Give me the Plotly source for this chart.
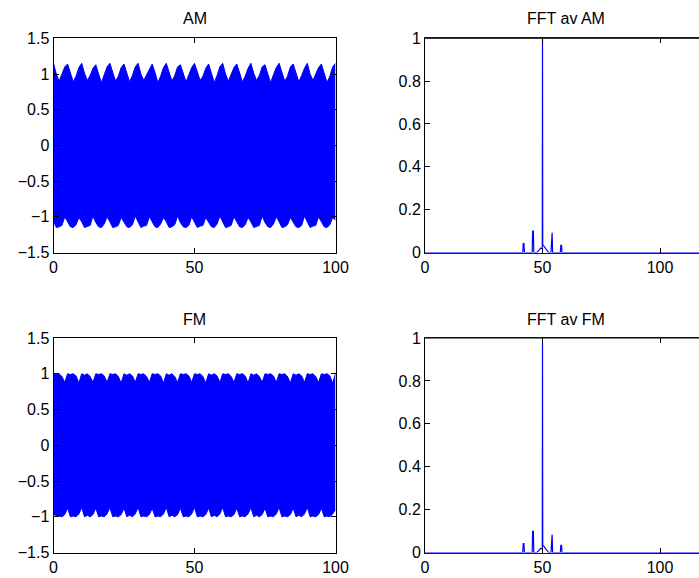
import plotly.graph_objects as go

# ---------------- data ----------------
sig_t = [0, 1, 2, 3, 4, 5, 6, 7, 8, 9, 10, 11, 12, 13, 14, 15, 16, 17, 18, 19,
         20, 21, 22, 23, 24, 25, 26, 27, 28, 29, 30, 31, 32, 33, 34, 35, 36, 37, 38, 39,
         40, 41, 42, 43, 44, 45, 46, 47, 48, 49, 50, 51, 52, 53, 54, 55, 56, 57, 58, 59,
         60, 61, 62, 63, 64, 65, 66, 67, 68, 69, 70, 71, 72, 73, 74, 75, 76, 77, 78, 79,
         80, 81, 82, 83, 84, 85, 86, 87, 88, 89, 90, 91, 92, 93, 94, 95, 96, 97, 98, 99, 100]

am_upper = [1.15, 1.00, 0.90, 0.99, 1.10, 1.14, 1.02, 0.89, 0.97, 1.09,
            1.15, 1.01, 0.91, 0.98, 1.08, 1.13, 1.00, 0.88, 0.99, 1.10,
            1.15, 1.02, 0.90, 0.97, 1.09, 1.14, 1.01, 0.89, 0.98, 1.10,
            1.15, 1.00, 0.91, 0.99, 1.08, 1.14, 1.02, 0.88, 0.97, 1.09,
            1.15, 1.01, 0.90, 0.98, 1.10, 1.13, 1.00, 0.89, 0.99, 1.09,
            1.15, 1.02, 0.91, 0.97, 1.08, 1.14, 1.01, 0.88, 0.98, 1.10,
            1.15, 1.00, 0.90, 0.99, 1.09, 1.14, 1.02, 0.89, 0.97, 1.08,
            1.15, 1.01, 0.91, 0.98, 1.10, 1.13, 1.00, 0.88, 0.99, 1.09,
            1.15, 1.02, 0.90, 0.97, 1.10, 1.14, 1.01, 0.89, 0.98, 1.08,
            1.15, 1.00, 0.91, 0.99, 1.09, 1.14, 1.02, 0.88, 0.97, 1.10, 1.15]

am_lower = [-1.06, -1.15, -1.14, -1.12, -1.00, -1.08, -1.14, -1.15, -1.11, -1.01,
            -1.07, -1.15, -1.13, -1.12, -0.99, -1.08, -1.14, -1.15, -1.10, -1.00,
            -1.07, -1.15, -1.14, -1.12, -1.01, -1.08, -1.14, -1.15, -1.11, -0.99,
            -1.06, -1.15, -1.13, -1.12, -1.00, -1.08, -1.14, -1.15, -1.10, -1.01,
            -1.07, -1.15, -1.14, -1.11, -0.99, -1.08, -1.14, -1.15, -1.12, -1.00,
            -1.07, -1.15, -1.13, -1.12, -1.01, -1.08, -1.14, -1.15, -1.10, -0.99,
            -1.06, -1.15, -1.14, -1.12, -1.00, -1.08, -1.14, -1.15, -1.11, -1.01,
            -1.07, -1.15, -1.13, -1.12, -0.99, -1.08, -1.14, -1.15, -1.10, -1.00,
            -1.07, -1.15, -1.14, -1.11, -1.01, -1.08, -1.14, -1.15, -1.12, -0.99,
            -1.06, -1.15, -1.13, -1.12, -1.00, -1.08, -1.14, -1.15, -1.11, -1.01, -1.05]

fm_upper = [1.00, 0.99, 1.00, 0.96, 0.88, 1.00, 0.99, 1.00, 0.97, 0.87,
            1.00, 0.98, 1.00, 0.96, 0.88, 1.00, 0.99, 1.00, 0.97, 0.88,
            1.00, 0.99, 1.00, 0.96, 0.87, 1.00, 0.98, 1.00, 0.97, 0.88,
            1.00, 0.99, 1.00, 0.96, 0.88, 1.00, 0.99, 1.00, 0.97, 0.87,
            1.00, 0.98, 1.00, 0.96, 0.88, 1.00, 0.99, 1.00, 0.97, 0.88,
            1.00, 0.99, 1.00, 0.96, 0.87, 1.00, 0.98, 1.00, 0.97, 0.88,
            1.00, 0.99, 1.00, 0.96, 0.88, 1.00, 0.99, 1.00, 0.97, 0.87,
            1.00, 0.98, 1.00, 0.96, 0.88, 1.00, 0.99, 1.00, 0.97, 0.88,
            1.00, 0.99, 1.00, 0.96, 0.87, 1.00, 0.98, 1.00, 0.97, 0.88,
            1.00, 0.99, 1.00, 0.96, 0.88, 1.00, 0.99, 1.00, 0.97, 0.87, 1.00]

fm_lower = [-0.95, -1.00, -0.99, -1.00, -0.97, -0.88, -1.00, -0.99, -1.00, -0.96,
            -0.87, -1.00, -0.98, -1.00, -0.97, -0.88, -1.00, -0.99, -1.00, -0.96,
            -0.87, -1.00, -0.99, -1.00, -0.97, -0.88, -1.00, -0.98, -1.00, -0.96,
            -0.87, -1.00, -0.99, -1.00, -0.97, -0.88, -1.00, -0.99, -1.00, -0.96,
            -0.87, -1.00, -0.98, -1.00, -0.97, -0.88, -1.00, -0.99, -1.00, -0.96,
            -0.87, -1.00, -0.99, -1.00, -0.97, -0.88, -1.00, -0.98, -1.00, -0.96,
            -0.87, -1.00, -0.99, -1.00, -0.97, -0.88, -1.00, -0.99, -1.00, -0.96,
            -0.87, -1.00, -0.98, -1.00, -0.97, -0.88, -1.00, -0.99, -1.00, -0.96,
            -0.87, -1.00, -0.99, -1.00, -0.97, -0.88, -1.00, -0.98, -1.00, -0.96,
            -0.87, -1.00, -0.99, -1.00, -0.97, -0.88, -1.00, -0.99, -1.00, -0.96, -0.90]

fft_freq = [0, 38.2, 38.4, 38.6, 41.6, 41.8, 42.1, 42.3, 45.6, 45.8, 46.1, 46.3,
            47.6, 48.4, 49.2, 49.8, 49.9, 50.0, 50.1, 50.6, 51.3, 52.0, 52.6,
            53.6, 53.8, 54.1, 54.3, 57.6, 57.8, 58.1, 58.3, 61.8, 62.0, 62.2, 120]

fft_am = [0, 0, 0.003, 0, 0, 0.042, 0.042, 0, 0, 0.100, 0.100, 0,
          0, 0.010, 0.020, 0.018, 0.020, 1.000, 0.035, 0.030, 0.018, 0.006, 0,
          0, 0.092, 0.092, 0, 0, 0.033, 0.033, 0, 0, 0.003, 0, 0]

fft_fm = [0, 0, 0.003, 0, 0, 0.042, 0.042, 0, 0, 0.099, 0.099, 0,
          0, 0.009, 0.019, 0.017, 0.019, 0.978, 0.033, 0.028, 0.017, 0.005, 0,
          0, 0.084, 0.084, 0, 0, 0.033, 0.033, 0, 0, 0.003, 0, 0]

titles = ["AM", "FFT av AM", "FM", "FFT av FM"]
sig_ticks = [-1.5, -1, -0.5, 0, 0.5, 1, 1.5]
sig_tick_text = ["\u22121.5", "\u22121", "\u22120.5", "0", "0.5", "1", "1.5"]
fft_yticks = [0, 0.2, 0.4, 0.6, 0.8, 1]
fft_ytick_text = ["0", "0.2", "0.4", "0.6", "0.8", "1"]
x_ticks = [0, 50, 100]

# ---------------- layout geometry ----------------
W, H = 699, 578
BLUE = "#0000FF"
FONT = "Liberation Sans, Arial, Helvetica, sans-serif"

def px_x(p):
    return p / W

def px_y(p):
    return 1 - p / H

left_dom = [px_x(53.5), px_x(335.5)]
right_dom = [px_x(425), 1.0]
top_dom = [px_y(252.5), px_y(38.3)]
bot_dom = [px_y(552.5), px_y(338)]

fig = go.Figure()

def band(t, lo, hi, xa, ya):
    fig.add_trace(go.Scatter(x=t, y=lo, mode="lines", line=dict(color=BLUE, width=1),
                             xaxis=xa, yaxis=ya, showlegend=False, hoverinfo="skip"))
    fig.add_trace(go.Scatter(x=t, y=hi, mode="lines", line=dict(color=BLUE, width=1),
                             fill="tonexty", fillcolor=BLUE,
                             xaxis=xa, yaxis=ya, showlegend=False, hoverinfo="skip"))

band(sig_t, am_lower, am_upper, "x", "y")
band(sig_t, fm_lower, fm_upper, "x3", "y3")

fig.add_trace(go.Scatter(x=fft_freq, y=fft_am, mode="lines", line=dict(color=BLUE, width=1.2),
                         xaxis="x2", yaxis="y2", showlegend=False))
fig.add_trace(go.Scatter(x=fft_freq, y=fft_fm, mode="lines", line=dict(color=BLUE, width=1.2),
                         xaxis="x4", yaxis="y4", showlegend=False))

def ax(domain, rng, ticks, mirror, anchor, labels=None, linecolor="black"):
    d = dict(domain=domain, range=rng, tickvals=ticks, showline=True, linecolor=linecolor,
             linewidth=1, ticks="inside", ticklen=5, tickcolor="black", mirror=mirror,
             showgrid=False, zeroline=False, anchor=anchor, automargin=False,
             tickfont=dict(family=FONT, size=16, color="black"))
    if labels:
        d["ticktext"] = labels
    return d

fft_xmax = (W - 425) / 2.35

fig.update_layout(
    width=W, height=H,
    margin=dict(l=0, r=0, t=0, b=0),
    paper_bgcolor="white", plot_bgcolor="white",
    font=dict(family=FONT, size=16, color="black"),
    xaxis=ax(left_dom, [0, 100], x_ticks, "ticks", "y"),
    yaxis=ax(top_dom, [-1.5, 1.5], sig_ticks, "ticks", "x", sig_tick_text),
    xaxis2=ax(right_dom, [0, fft_xmax], x_ticks, "ticks", "y2", linecolor=BLUE),
    yaxis2=ax(top_dom, [0, 1], fft_yticks, False, "x2", fft_ytick_text),
    xaxis3=ax(left_dom, [0, 100], x_ticks, "ticks", "y3"),
    yaxis3=ax(bot_dom, [-1.5, 1.5], sig_ticks, "ticks", "x3", sig_tick_text),
    xaxis4=ax(right_dom, [0, fft_xmax], x_ticks, "ticks", "y4", linecolor=BLUE),
    yaxis4=ax(bot_dom, [0, 1], fft_yticks, False, "x4", fft_ytick_text),
)

# black top frame line of the spectrum panels (the bottom edge is covered by the blue trace)
for dom in (top_dom, bot_dom):
    fig.add_shape(type="line", xref="paper", yref="paper",
                  x0=right_dom[0], x1=1.0, y0=dom[1], y1=dom[1],
                  line=dict(color="black", width=1))

title_pos = [(194.5, 19), (565.5, 19), (194.5, 319), (565.5, 319)]
for txt, (cx, cy) in zip(titles, title_pos):
    fig.add_annotation(text=txt, x=px_x(cx), y=px_y(cy), xref="paper", yref="paper",
                       showarrow=False, xanchor="center", yanchor="middle",
                       font=dict(family=FONT, size=16, color="black"))

fig.write_html("out.html", config={"displayModeBar": False},
               post_script="document.body.style.margin='0';document.body.style.overflow='hidden';")
